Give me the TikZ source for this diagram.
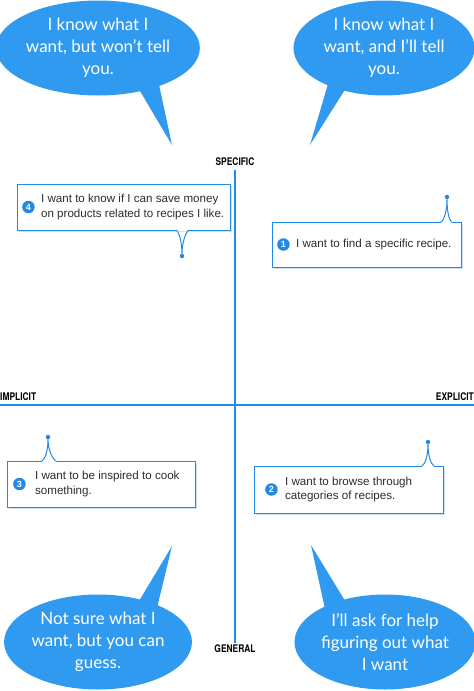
\documentclass[tikz,border=0pt]{standalone}
\usepackage{fontspec}
\setmainfont{Liberation Sans}
\newfontfamily\bubblefont{Lato}
\newfontfamily\labelfont{TeX Gyre Heros}
\usetikzlibrary{positioning,shapes.geometric,shadows}
\definecolor{bubbleblue}{RGB}{48,154,240}
\definecolor{lineblue}{RGB}{33,137,232}
\definecolor{shadowblue}{RGB}{205,225,246}
\definecolor{textgray}{RGB}{45,45,45}
\tikzset{
  bubble/.style={ellipse, fill=bubbleblue, text=white, align=center,
    minimum width=181, minimum height=95, inner sep=0pt,
    font=\bubblefont\fontsize{17}{22}\selectfont},
  tail/.style={fill=bubbleblue},
  quadbox/.style={draw=lineblue, line width=1pt, fill=white,
    drop shadow={fill=shadowblue, shadow xshift=2pt, shadow yshift=-2pt, opacity=1},
    inner sep=0pt},
  numdot/.style={circle, fill=lineblue, text=white, inner sep=0pt, minimum size=12.5,
    font=\bfseries\fontsize{9}{9}\selectfont},
  boxtext/.style={text=textgray, align=left, inner sep=0pt, anchor=west,
    font=\fontsize{11.6}{14.5}\selectfont},
  tipdot/.style={circle, fill=lineblue, inner sep=0pt, minimum size=4.5},
  pointer/.style={draw=lineblue, line width=1pt},
  axislabel/.style={font=\labelfont\bfseries\fontsize{10.5}{10}\selectfont, inner sep=0pt},
  axis/.style={draw=lineblue, line width=2pt},
}
\begin{document}
\begin{tikzpicture}[x=1pt,y=-1pt]
\path[fill=white,use as bounding box] (0,0) rectangle (474,691);
% 坐标轴
\coordinate (vtop) at (235,170);
\coordinate (vbot) at (235,643);
\coordinate (hleft) at (0,405);
\coordinate (hright) at (474,405);
\draw[axis] (vtop) -- (vbot);
\draw[axis] (hleft) -- (hright);
\node[axislabel] (specific) at (235,162) {\scalebox{0.8}[1]{SPECIFIC}};
\node[axislabel] (general) at (235,649) {\scalebox{0.8}[1]{GENERAL}};
\node[axislabel, anchor=west] (implicit) at (0,397) {\scalebox{0.8}[1]{IMPLICIT}};
\node[axislabel, anchor=east] (explicit) at (474,397) {\scalebox{0.8}[1]{EXPLICIT}};
% 对话气泡
\fill[tail] (137,86) -- (172,145) -- (158,80) -- cycle;
\fill[tail] (328,84) -- (310,145) -- (346,88) -- cycle;
\fill[tail] (136,606) -- (172,546) -- (157,608) -- cycle;
\fill[tail] (325,609) -- (311,545) -- (347,604) -- cycle;
\node[bubble] (know) at (98,48) {I know what I\\want, but won’t tell\\you.};
\node[bubble] (tell) at (384,48) {I know what I\\want, and I’ll tell\\you.};
\node[bubble] (guess) at (98,642) {Not sure what I\\want, but you can\\guess.};
\node[bubble] (help) at (385,642) {I’ll ask for help\\figuring out what\\I want};
% 方框
\node[quadbox, minimum width=213, minimum height=46] (box4) at (123.5,207) {};
\node[quadbox, minimum width=189, minimum height=45] (box1) at (366.5,244.5) {};
\node[quadbox, minimum width=188, minimum height=46] (box3) at (101,484) {};
\node[quadbox, minimum width=189, minimum height=47] (box2) at (348.5,489.5) {};
\node[numdot, right=5.5 of box4.west] (n4) {4};
\node[numdot, right=5.5 of box1.west] (n1) {1};
\node[numdot, right=6.5 of box3.west] (n3) {3};
\node[numdot, right=11.5 of box2.west] (n2) {2};
\node[boxtext, right=6 of n4.east, anchor=west] (t4) {I want to know if I can save money\\on products related to recipes I like.};
\node[boxtext, right=6 of n1.east, anchor=west] (t1) {I want to find a specific recipe.};
\node[boxtext, right=9 of n3.east, anchor=west] (t3) {I want to be inspired to cook\\something.};
\node[boxtext, right=7 of n2.east, anchor=west] (t2) {I want to browse through\\categories of recipes.};
% 指针
\node[tipdot] (d4) at (182,256) {};
\node[tipdot] (d1) at (447,197) {};
\node[tipdot] (d3) at (48,437) {};
\node[tipdot] (d2) at (428,442) {};
\fill[white] (176,230.5) -- (176,227) -- (189,227) -- (189,230.5) -- cycle;
\draw[pointer] (176,230) .. controls +(3.5,2) and +(0,-10) .. (d4.north) .. controls +(0,-10) and +(-3.5,2) .. (189,230);
\fill[white] (441,221.5) -- (441,225) -- (452,225) -- (452,221.5) -- cycle;
\draw[pointer] (441,222) .. controls +(3.5,-2) and +(0,10) .. (d1.south) .. controls +(0,10) and +(-3.5,-2) .. (452,222);
\fill[white] (42,460.5) -- (42,464) -- (56,464) -- (56,460.5) -- cycle;
\draw[pointer] (42,461) .. controls +(3.5,-2) and +(0,10) .. (d3.south) .. controls +(0,10) and +(-3.5,-2) .. (56,461);
\fill[white] (422,465.5) -- (422,469) -- (434,469) -- (434,465.5) -- cycle;
\draw[pointer] (422,466) .. controls +(3.5,-2) and +(0,10) .. (d2.south) .. controls +(0,10) and +(-3.5,-2) .. (434,466);
\end{tikzpicture}
\end{document}
